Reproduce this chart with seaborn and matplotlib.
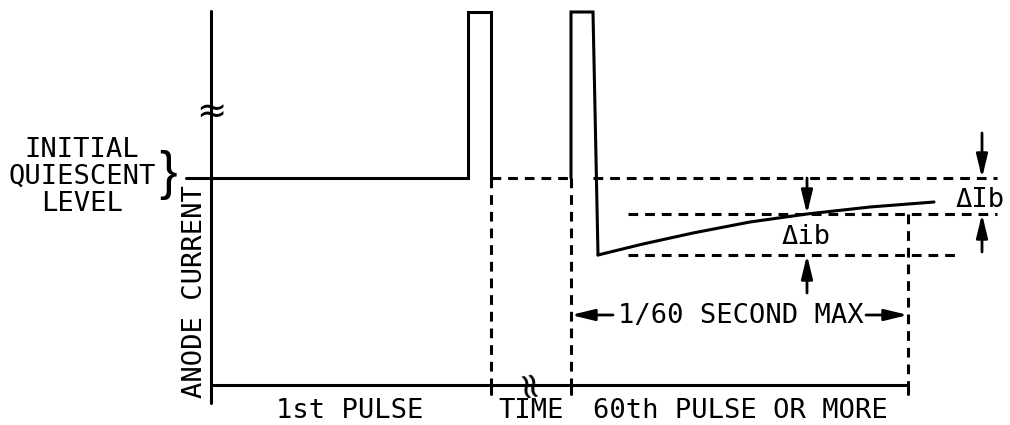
import matplotlib
matplotlib.use("Agg")
import matplotlib.pyplot as plt
import seaborn as sns
import pandas as pd

# ---- data (diagram units: pixels of the 1010x425 drawing, y downward) ----
axis_x = [211, 211]
axis_y = [11, 403]
base_x = [211, 908]
base_y = [385, 385]

pulse1_x = [186, 468, 468, 491, 491]
pulse1_y = [178, 178, 12, 12, 178]
pulse60_x = [571, 571, 593, 598]
pulse60_y = [178, 12, 12, 255]
recovery_x = [598, 643, 693, 750, 807, 870, 934]
recovery_y = [255, 244, 233, 222, 214, 207, 202]

quiescent_level = 178
mid_level = 214
min_level = 255
time_marks = [491, 571, 908]

dashed_h = [  # (x0, x1, y)
    (491, 571, quiescent_level),
    (593, 997, quiescent_level),
    (628, 997, mid_level),
    (628, 960, min_level),
]
dashed_v = [  # (x, y0, y1)
    (491, quiescent_level, 385),
    (571, quiescent_level, 385),
    (908, mid_level, 385),
]

bottom_labels = ["1st PULSE", "TIME", "60th PULSE OR MORE"]
bottom_label_x = [350, 531, 740]
side_label_lines = ["INITIAL", "QUIESCENT", "LEVEL"]
side_label_y = [150, 177, 204]

sns.set_theme(style="white")
plt.rcParams["font.family"] = ["DejaVu Sans Mono", "DejaVu Sans"]
plt.rcParams["lines.scale_dashes"] = False

fig = plt.figure(figsize=(10.1, 4.25), dpi=100)
ax = fig.add_axes([0, 0, 1, 1])
ax.set_xlim(0, 1010)
ax.set_ylim(425, 0)
ax.axis("off")

LW = 2.2
DASH = (0, (7.0, 5.0))

def solid(xs, ys):
    df = pd.DataFrame({"x": xs, "y": ys})
    sns.lineplot(data=df, x="x", y="y", sort=False, estimator=None,
                 color="black", lw=LW, ax=ax, solid_joinstyle="miter")

solid(axis_x, axis_y)
solid(base_x, base_y)
solid(pulse1_x, pulse1_y)
solid(pulse60_x, pulse60_y)
solid(recovery_x, recovery_y)
for tx in time_marks:
    solid([tx, tx], [385, 394])

for x0, x1, y in dashed_h:
    df = pd.DataFrame({"x": [x0, x1], "y": [y, y]})
    sns.lineplot(data=df, x="x", y="y", sort=False, estimator=None,
                 color="black", lw=LW, ls=DASH, ax=ax)
for x, y0, y1 in dashed_v:
    df = pd.DataFrame({"x": [x, x], "y": [y0, y1]})
    sns.lineplot(data=df, x="x", y="y", sort=False, estimator=None,
                 color="black", lw=LW, ls=DASH, ax=ax)

ax.set_xlabel("")
ax.set_ylabel("")

def arrow(tip, tail):
    ax.annotate("", xy=tip, xytext=tail,
                arrowprops=dict(arrowstyle="-|>,head_length=0.7,head_width=0.17",
                                lw=2.0, color="black", shrinkA=0, shrinkB=0,
                                mutation_scale=20))

# delta ib arrows
arrow((807, mid_level), (807, quiescent_level))
arrow((807, min_level), (807, 293))
# delta Ib arrows
arrow((982, quiescent_level), (982, 133))
arrow((982, mid_level), (982, 252))
# 1/60 second arrows
arrow((571, 315), (613, 315))
arrow((908, 315), (866, 315))

FS = 19.5
txt = dict(color="black", fontsize=FS, ha="center", va="center")
ax.text(741, 316, "1/60 SECOND MAX", **txt)
ax.text(806, 237, "\u0394ib", **txt)
ax.text(980, 200, "\u0394Ib", **txt)
for lab, x in zip(bottom_labels, bottom_label_x):
    ax.text(x, 411, lab, **txt)
for lab, y in zip(side_label_lines, side_label_y):
    ax.text(82, y, lab, **txt)
ax.text(195, 292, "ANODE CURRENT", rotation=90, **txt)

# brace and axis breaks
ax.text(168, 175, "}", color="black", fontsize=38, ha="center", va="center",
        family="Liberation Sans")
ax.text(211, 113, "\u2248", color="black", fontsize=26, ha="center", va="center",
        family="DejaVu Sans")
ax.text(528, 382, "\u2248", color="black", fontsize=26, ha="center", va="center",
        rotation=100, family="DejaVu Sans")

fig.savefig("out.png", dpi=100)
